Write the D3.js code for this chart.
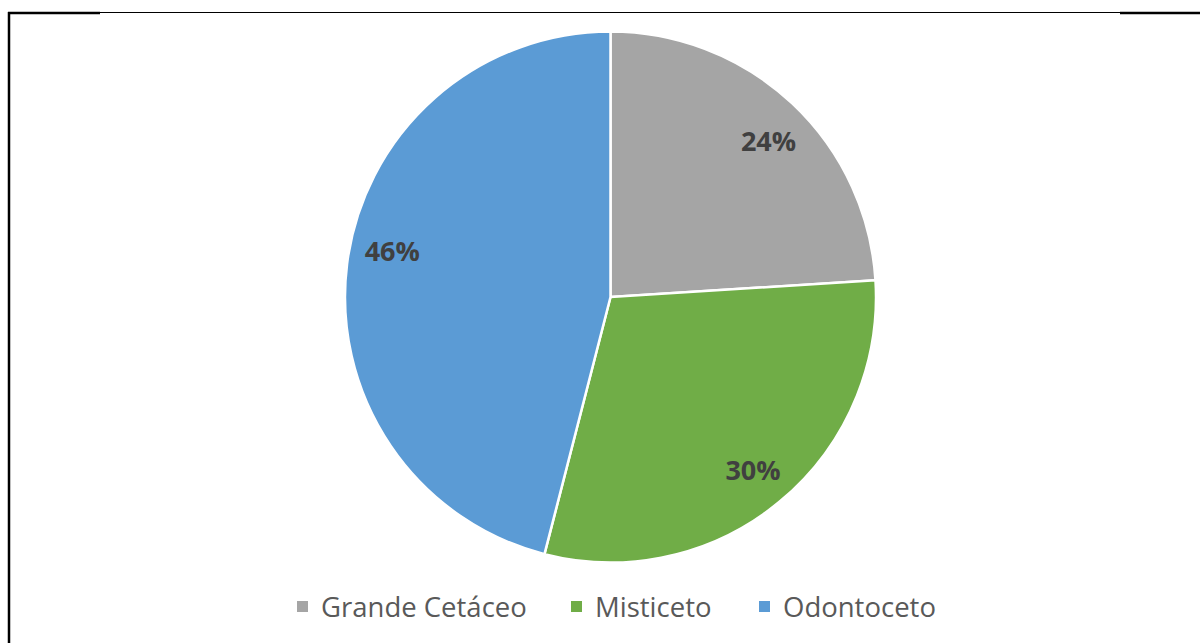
<!DOCTYPE html>
<html>
<head>
<meta charset="utf-8">
<script src="https://cdn.jsdelivr.net/npm/d3@7"></script>
<style>
  html, body { margin: 0; padding: 0; background: #fff; }
  svg { display: block; }
</style>
</head>
<body>
<svg id="chart" width="1200" height="643"></svg>
<script>
// Share of records by cetacean group (percent)
const categories = ["Grande Cetáceo", "Misticeto", "Odontoceto"];
const values = [24, 30, 46];
const colors = ["#A5A5A5", "#70AD47", "#5B9BD5"];

const svg = d3.select("#chart");
const W = 1200, H = 643;
const cx = 610.5, cy = 297, R = 265.5, labelR = 222;
// small per-slice label nudges (best-fit placement)
const labelNudge = [[6, 6], [1, 2], [2, -18]];

// Frame lines
const frame = svg.append("g").attr("stroke", "#000").attr("fill", "none");
frame.append("line").attr("x1", 9).attr("x2", 9).attr("y1", 12).attr("y2", H).attr("stroke-width", 2.5);
frame.append("line").attr("x1", 8).attr("x2", 100).attr("y1", 13).attr("y2", 13).attr("stroke-width", 2.5);
frame.append("line").attr("x1", 100).attr("x2", 1120).attr("y1", 12.5).attr("y2", 12.5).attr("stroke-width", 1.2);
frame.append("line").attr("x1", 1120).attr("x2", W).attr("y1", 13).attr("y2", 13).attr("stroke-width", 2.5);

const data = categories.map((c, i) => ({ name: c, value: values[i], color: colors[i] }));

const pie = d3.pie().value(d => d.value).sort(null);
const arcs = pie(data);
const arc = d3.arc().innerRadius(0).outerRadius(R);
const labelArc = d3.arc().innerRadius(labelR).outerRadius(labelR);

const g = svg.append("g").attr("transform", `translate(${cx},${cy})`);

g.selectAll("path.slice")
  .data(arcs)
  .join("path")
  .attr("class", "slice")
  .attr("d", arc)
  .attr("fill", d => d.data.color)
  .attr("stroke", "#fff")
  .attr("stroke-width", 2.5)
  .attr("stroke-linejoin", "round");

g.selectAll("text.pct")
  .data(arcs)
  .join("text")
  .attr("class", "pct")
  .attr("transform", (d, i) => {
    const [x, y] = labelArc.centroid(d);
    return `translate(${x + labelNudge[i][0]},${y + labelNudge[i][1]})`;
  })
  .attr("text-anchor", "middle")
  .attr("dy", "0.36em")
  .attr("font-family", "'Open Sans', 'Noto Sans', sans-serif")
  .attr("font-weight", "bold")
  .attr("font-size", 27)
  .attr("fill", "#404040")
  .text(d => d3.format(".0%")(d.data.value / d3.sum(values)));

// Legend
const legendX = [297, 571, 759];
const legend = svg.append("g");
const items = legend.selectAll("g.item")
  .data(data)
  .join("g")
  .attr("class", "item")
  .attr("transform", (d, i) => `translate(${legendX[i]},601)`);

items.append("rect")
  .attr("width", 11)
  .attr("height", 11)
  .attr("fill", d => d.color);

items.append("text")
  .attr("x", 24)
  .attr("y", 16)
  .attr("font-family", "'Open Sans', 'Noto Sans', sans-serif")
  .attr("font-size", 27.5)
  .attr("fill", "#595959")
  .text(d => d.name);
</script>
</body>
</html>
